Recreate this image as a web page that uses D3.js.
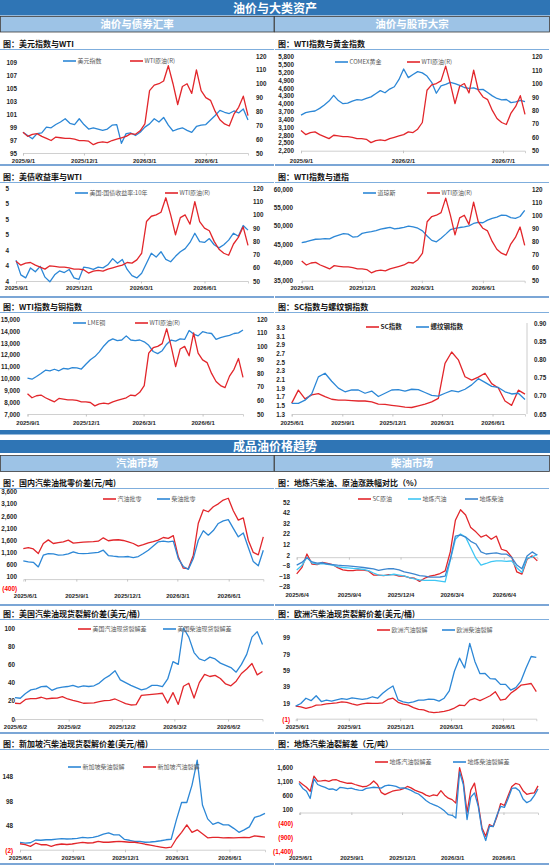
<!DOCTYPE html>
<html>
<head>
<meta charset="utf-8">
<script src="https://cdn.jsdelivr.net/npm/d3@7"></script>
<style>
  body { margin: 0; background: #fff; }
  svg { display: block; font-family: "Noto Sans CJK SC", "Microsoft YaHei", sans-serif; }
</style>
</head>
<body>
<svg id="chart" width="550" height="867"></svg>
<script>
// ---- 油价与大类资产: weekly readings, 2025/9/1 .. 2026/8/3 ----
const wti = [65, 62, 63.5, 64, 62, 60.5, 59, 61.5, 61, 60.5, 60.5, 60, 59, 59, 58.5, 56, 57.5, 58, 57.5, 59,
  60, 61, 62, 64, 63.5, 66, 71, 95, 99, 100, 102, 113, 100, 85, 98, 100, 93, 110, 95, 90,
  88, 80, 74, 71, 69.5, 78, 83, 91, 77];
const dxy = [98.2, 97.7, 97.2, 98.0, 98.1, 99.0, 98.9, 99.4, 99.8, 100.3, 99.6, 99.4, 100.3, 99.4, 98.7, 98.9, 98.7, 98.5, 98.7, 99.3,
  99.4, 96.5, 98.0, 98.1, 97.7, 98.2, 99.0, 99.5, 100.3, 99.8, 100.5, 99.3, 98.4, 98.7, 98.9, 98.5, 98.2, 99.1, 99.3, 99.4,
  100.1, 100.8, 101.6, 101.3, 101.1, 101.5, 101.2, 101.8, 100.1];
const gold = [3560, 3660, 3700, 3720, 3820, 3950, 4100, 4320, 4120, 4000, 4020, 4100, 4160, 4140, 4200, 4260, 4380, 4500, 4420, 4560,
  4650, 4930, 5330, 5000, 5120, 5230, 5180, 5060, 4820, 4400, 4680, 4740, 4820, 4770, 4700, 4620, 4590, 4610, 4540, 4550,
  4430, 4300, 4200, 4150, 4160, 4040, 4070, 4130, 4080];
const ust10y = [4.27, 4.08, 4.04, 4.17, 4.12, 4.19, 4.05, 3.99, 4.08, 4.13, 4.11, 4.15, 4.04, 4.02, 4.18, 4.17, 4.15, 4.18, 4.17, 4.21,
  4.29, 4.23, 4.28, 4.15, 4.07, 4.04, 4.10, 4.23, 4.36, 4.31, 4.38, 4.28, 4.25, 4.32, 4.38, 4.42, 4.50, 4.62, 4.51, 4.50,
  4.55, 4.47, 4.43, 4.47, 4.53, 4.62, 4.58, 4.72, 4.66];
const dow = [45360, 45620, 46000, 46300, 46350, 46450, 46400, 47000, 47450, 47850, 47700, 46900, 47000, 47900, 48200, 48400, 48650, 49050, 49300, 49540,
  49100, 49300, 49550, 49900, 49650, 49300, 48600, 47200, 46000, 45600, 46600, 47700, 48900, 49250, 49500, 49700, 49950, 50600, 50900, 50800,
  51500, 52000, 52350, 52850, 52800, 52200, 52000, 52500, 54200];
const lmeCopper = [10030, 9940, 10170, 10420, 10700, 10650, 10780, 10650, 10850, 10800, 10920, 10900, 10800, 11200, 11580, 11850, 12250, 12750, 13150, 13350,
  13200, 13250, 13600, 13250, 13200, 13250, 13100, 12800, 12280, 12100, 12350, 12900, 13250, 13150, 13350, 13300, 14050, 13750, 13600, 13950,
  13850, 13800, 13300, 13450, 13550, 13650, 13800, 13850, 14100];

// ---- SC vs 螺纹钢, 2025/6/1 .. 2026/7/30 ----
const scIndex = [1.55, 1.85, 1.65, 1.74, 1.77, 1.70, 1.64, 1.62, 1.62, 1.61, 1.60, 1.60, 1.58, 1.53, 1.52, 1.50, 1.48, 1.46, 1.45, 1.49,
  1.53, 1.58, 1.66, 2.47, 2.73, 2.55, 2.16, 2.08, 2.15, 2.24, 2.0, 1.90, 1.60, 1.50, 1.85, 1.76];
const rebarIndex = [0.679, 0.679, 0.688, 0.705, 0.752, 0.762, 0.740, 0.721, 0.711, 0.716, 0.716, 0.707, 0.713, 0.698, 0.707, 0.716, 0.717, 0.713, 0.718, 0.717,
  0.709, 0.701, 0.699, 0.707, 0.714, 0.711, 0.718, 0.730, 0.747, 0.737, 0.726, 0.723, 0.711, 0.705, 0.707, 0.690];

// ---- 成品油 ----
const gasWholesale = [1259, 1300, 1240, 1052, 1466, 1615, 1466, 1500, 1535, 1603, 1480, 1500, 1521, 1530, 1540, 1560, 1700, 1580, 1610, 1620,
  1590, 1535, 1466, 1355, 1420, 1493, 1540, 1603, 1713, 1680, 1790, 915, 450, 430, 984, 2300, 2850, 2774, 2980, 3100,
  3256, 3330, 2815, 2430, 2520, 1600, 1100, 1000, 1741];
const dieselWholesale = [750, 708, 690, 502, 984, 1052, 1040, 984, 1000, 1040, 1121, 1060, 1052, 1060, 1080, 1100, 1190, 970, 942, 920,
  915, 930, 887, 930, 1052, 1190, 1360, 1535, 1560, 1535, 1562, 846, 520, 400, 846, 1600, 1990, 1810, 2000, 2292,
  2400, 2450, 2090, 1741, 1900, 1300, 720, 550, 1190];
const scCrudePct = [-15.9, -10, 3, -6.6, -7, -5, -6, -7, -10, -12, -12.8, -12.8, -12, -12.2, -13, -17, -17, -17.5, -16.5, -16.5,
  -18, -18, -19.5, -20, -23, -20, -18, -17, -15.5, -13, 5, 35, 45, 40, 28, 24, 19, 21, 17, 20,
  7.5, 6, 0, -14, -16, -2, 1.2, -3.5];
const localGasPct = [-12.2, -8, 0, -5.5, -6.6, -6, -6.8, -7.5, -8.9, -9.8, -10.2, -10.7, -11, -11.5, -12.8, -15, -17, -17.3, -17, -16.2,
  -17, -17.8, -19.3, -20.5, -21.5, -22, -22, -22, -22.8, -23.5, -3, 17, 22, 19, 9, -1, -7.5, -6, -4.3, -3.5,
  -3.5, -4, -3.5, -10, -14.5, -1, 0, 2.8];
const localDieselPct = [-7.5, -5, -0.5, -4.5, -5.6, -5.3, -6.5, -7, -7.6, -8, -8.3, -8.8, -9.3, -9.8, -10.5, -11.2, -12.5, -11.5, -10.8, -11,
  -12, -14, -15, -16, -17.5, -18, -19, -19, -18.8, -18, -2, 19.9, 21, 19, 15, 12.5, 5, 3, 3.5, 4,
  2.8, 2.8, -0.3, -7.5, -11, 1, 5, 1.8];
const usGasCrack = [17.3, 17, 21.5, 22.5, 22.5, 23.9, 22, 22.8, 23, 24.6, 22, 20.5, 19.2, 17.3, 17.5, 17.8, 19, 20.2, 20.5, 22,
  19.5, 17, 15.4, 15.8, 26, 26.5, 27, 27.6, 28.3, 17.5, 29, 16, 36, 39.3, 23, 40, 49, 46.7, 48, 44.5,
  38.5, 36.5, 41.5, 50, 55, 61, 48.5, 52.2];
const usDieselCrack = [23.5, 22.8, 28, 32, 33, 35.5, 36, 31.5, 34, 35, 35.7, 37, 35, 36.5, 35.7, 36.5, 39.5, 44.5, 48, 53,
  43, 40, 37, 34.5, 32, 33.5, 37, 37, 35.5, 44, 63, 60, 100, 90, 73, 66, 64, 68, 66, 61.4,
  59, 56.5, 51.5, 60, 71, 90, 96, 82];
const euGasCrack = [15.3, 14.5, 12.5, 14, 16.6, 17, 18, 18.6, 19.4, 20.6, 20, 18, 16.6, 18, 19, 18.6, 18.6, 19.4, 23.5, 25,
  20, 17.8, 16.6, 13.5, 11.5, 10.8, 8.4, 7.5, 8, 9, 10.4, 13, 16.6, 16, 22.7, 24.7, 22, 25, 28, 32.9,
  22.7, 24, 31, 35.5, 41, 42, 43, 33];
const euDieselCrack = [15.3, 18.6, 25, 22, 28, 21, 22.7, 21.5, 23, 24.5, 23.5, 25.5, 24.5, 23.5, 24.5, 26.8, 25, 31, 36, 40,
  23, 20.6, 19.4, 20.6, 22.7, 22.7, 24, 23.5, 21.5, 25, 34, 58, 74, 62, 92, 70, 55, 55.3, 49, 48.5,
  42, 42, 35, 38, 46, 62, 76, 75];
const sgDieselCrack = [14.6, 13.3, 14, 19.5, 19, 20, 20, 21.3, 22.5, 21.5, 22, 23, 25, 24, 25, 27.5, 31.5, 34, 30, 30,
  21, 19, 16.6, 16.6, 15, 15.5, 16.5, 18, 20, 21, 60, 95, 95, 130, 180, 90, 62, 51, 55, 50,
  50, 43, 35, 40, 46, 65, 68, 73];
const sgGasCrack = [12, 10, 6.6, 13, 10, 10, 6.6, 10, 11.5, 10.5, 11.5, 13.3, 14.6, 13.5, 14, 16.6, 15, 15, 16, 16.6,
  16, 15, 15, 13.3, 11, 9, 7, 5.3, 3.5, 5, 22, 35, 50, 35, 40, 32, 24, 25, 25, 24,
  24.5, 24, 24.5, 25, 24.5, 28, 26.6, 25.3];
const localGasCrack = [1104, 1000, 900, 760, 1300, 1120, 1130, 1145, 1110, 1163, 1170, 1110, 1080, 1044, 1050, 1000, 960, 920, 930, 1000,
  1127, 1000, 720, 640, 700, 760, 790, 808, 850, 930, 880, 800, 749, 700, 620, 580, 631, 600, 780, 620,
  513, 460, 335, 1600, 1100, 0, 800, 1050, 300, -550, -850, -430, -500, -150, 320, 250, 600, 930, 1040, 1000,
  780, 650, 680, 700, 950];
const localDieselCrack = [1044, 860, 760, 500, 1200, 1000, 940, 900, 830, 840, 790, 900, 880, 850, 867, 830, 800, 790, 860, 880,
  902, 890, 870, 950, 980, 960, 930, 870, 880, 840, 790, 713, 660, 550, 430, 340, 280, 230, 150, 50,
  -78, -100, -197, 1450, 1000, -250, 550, 700, 220, -620, -1000, -490, -500, -100, 217, 180, 500, 860, 880, 780,
  480, 350, 420, 600, 840];

// tick labels
const ticksSep = ['2025-09-01', '2025-12-01', '2026-03-01', '2026-06-01'];
const ticksGold = ['2025-09-01', '2026-02-01', '2026-07-01'];
const ticksJun1 = ['2025-06-01', '2025-09-01', '2025-12-01', '2026-03-01', '2026-06-01'];
const ticksJun2 = ['2025-06-02', '2025-09-02', '2025-12-02', '2026-03-02', '2026-06-02'];
const ticksJun4 = ['2025-06-04', '2025-09-04', '2025-12-04', '2026-03-04', '2026-06-04'];

const BLUE = '#2C87D6', RED = '#E2262B', CYAN = '#3EC6F4', MIDBLUE = '#3C86CF';
const HEAD = '#2F75B5', SUB = '#9DC3E6';

const svg = d3.select('#chart');
const parse = d3.utcParse('%Y-%m-%d');
const fmtDate = d3.utcFormat('%Y/%-m/%-d');
const comma = d3.format(',');
const paren = v => v < 0 ? '(' + comma(-v) + ')' : comma(v);
const redNeg = v => v < 0 ? '#FF0000' : '#262626';

// ---- section headers ----
function header(y, h, label) {
  svg.append('rect').attr('x', 0).attr('y', y).attr('width', 550).attr('height', h).attr('fill', HEAD);
  svg.append('text').attr('x', 275).attr('y', y + h / 2 + 0.5).attr('dy', '0.36em').attr('text-anchor', 'middle')
    .attr('fill', '#fff').attr('font-size', 12).attr('font-weight', 'bold').text(label);
}
function subheader(y, h, labels) {
  labels.forEach((t, i) => {
    svg.append('rect').attr('x', 0.5 + i * 274).attr('y', y).attr('width', i ? 275 : 273.5).attr('height', h)
      .attr('fill', SUB).attr('stroke', '#3a3a3a').attr('stroke-width', 0.8);
    svg.append('text').attr('x', 137 + i * 275).attr('y', y + h / 2).attr('dy', '0.36em').attr('text-anchor', 'middle')
      .attr('fill', '#fff').attr('font-size', 10.5).attr('font-weight', 'bold').text(t);
  });
}
header(0, 15.5, '油价与大类资产');
subheader(16.5, 15.5, ['油价与债券汇率', '油价与股市大宗']);
svg.append('rect').attr('x', 0).attr('y', 430).attr('width', 550).attr('height', 4.5).attr('fill', HEAD);
header(440, 13, '成品油价格趋势');
subheader(455.5, 16, ['汽油市场', '柴油市场']);

// ---- one chart panel ----
function panel(p) {
  const g = svg.append('g');
  const W = 274;
  g.append('text').attr('x', p.x0 + 3).attr('y', p.ty).attr('dy', '0.36em')
    .attr('font-size', 8).attr('font-weight', 'bold').attr('fill', '#111').text(p.title);
  g.append('line').attr('x1', p.x0).attr('x2', p.x0 + W).attr('y1', p.ty + 5.5).attr('y2', p.ty + 5.5)
    .attr('stroke', '#7FAEDD').attr('stroke-width', 1.2);
  if (p.bottom) g.append('line').attr('x1', p.x0).attr('x2', p.x0 + W).attr('y1', p.bottom).attr('y2', p.bottom)
    .attr('stroke', '#4F88C9').attr('stroke-width', 1.6);

  const span = p.span.map(parse);
  const x = d3.scaleUtc().domain(span).range(p.xr);
  const yL = d3.scaleLinear().domain(p.left.domain).range(p.yr);
  const yR = p.right ? d3.scaleLinear().domain(p.right.domain).range(p.yr) : null;

  // y axes
  const la = g.append('g').attr('transform', `translate(${p.left.x},0)`)
    .call(d3.axisLeft(yL).tickValues(p.left.ticks).tickSize(0).tickPadding(0).tickFormat(p.left.fmt || comma));
  la.select('.domain').remove();
  la.selectAll('text').attr('font-size', 6.3).attr('font-weight', 'bold').attr('font-family', null)
    .attr('fill', d => (p.left.color || (() => '#262626'))(d));
  if (yR) {
    const ra = g.append('g').attr('transform', `translate(${p.right.x},0)`)
      .call(d3.axisRight(yR).tickValues(p.right.ticks).tickSize(0).tickPadding(0).tickFormat(p.right.fmt || comma));
    ra.select('.domain').remove();
    ra.selectAll('text').attr('font-size', 6.3).attr('font-weight', 'bold').attr('font-family', null).attr('fill', '#262626');
  }
  if (p.rightLine) g.append('line').attr('x1', p.rightLine).attr('x2', p.rightLine).attr('y1', p.yr[1]).attr('y2', p.yr[0])
    .attr('stroke', '#bfbfbf').attr('stroke-width', 0.8);

  // category axis line (at zero when the range crosses it) and its labels
  const tickDates = p.ticks.map(parse);
  const baseY = p.zero ? yL(0) : p.yr[0];
  const xa = g.append('g').attr('transform', `translate(0,${baseY})`)
    .call(d3.axisBottom(x).tickValues(tickDates).tickSize(2.5).tickFormat(''));
  xa.select('.domain').attr('stroke', '#c4c4c4').attr('stroke-width', 0.8);
  xa.selectAll('.tick line').attr('stroke', '#c4c4c4');
  const xl = g.append('g').attr('transform', `translate(0,${p.xLabelY})`)
    .call(d3.axisBottom(x).tickValues(tickDates).tickSize(0).tickFormat(fmtDate));
  xl.select('.domain').remove();
  xl.selectAll('text').attr('y', 0).attr('dy', '0.36em').attr('font-size', 6).attr('font-weight', 'bold')
    .attr('font-family', null).attr('fill', '#262626');

  // series: values are evenly spaced across the span
  p.series.forEach(s => {
    const y = s.axis === 'R' ? yR : yL;
    const n = s.values.length;
    const at = i => new Date(+span[0] + (span[1] - span[0]) * i / (n - 1));
    g.append('path').datum(s.values)
      .attr('fill', 'none').attr('stroke', s.color).attr('stroke-width', 1.3).attr('stroke-linejoin', 'round')
      .attr('d', d3.line().x((v, i) => x(at(i))).y(v => y(v)));
    const [lx, ly] = s.legend;
    g.append('line').attr('x1', lx).attr('x2', lx + 13).attr('y1', ly).attr('y2', ly)
      .attr('stroke', s.color).attr('stroke-width', 1.6);
    g.append('text').attr('x', lx + 14.5).attr('y', ly).attr('dy', '0.36em')
      .attr('font-size', p.legendBold ? 6.5 : 6).attr('font-weight', p.legendBold ? 'bold' : 'normal')
      .attr('fill', p.legendBold ? '#222' : '#595959').text(s.name);
  });
}

const wtiAxis = x => ({ domain: [50, 120], ticks: d3.range(50, 121, 10), x });
const weekSpan = ['2025-09-01', '2026-08-03'];

const panels = [
  { title: '图：美元指数与WTI', x0: 0, ty: 44, bottom: 165, span: weekSpan, xr: [23, 248], yr: [153, 56],
    ticks: ticksSep, xLabelY: 161,
    left: { domain: [95, 110], ticks: d3.range(95, 110, 2), x: 17 }, right: wtiAxis(256),
    series: [
      { values: dxy, name: '美元指数', color: BLUE, legend: [63, 61] },
      { values: wti, name: 'WTI原油(R)', color: RED, axis: 'R', legend: [130, 61] }] },
  { title: '图：WTI指数与黄金指数', x0: 275, ty: 44, bottom: 165, span: weekSpan, xr: [301, 525], yr: [150.7, 56.7],
    ticks: ticksGold, xLabelY: 161,
    left: { domain: [2200, 5800], ticks: d3.range(2200, 5801, 300), x: 294 }, right: wtiAxis(532),
    series: [
      { values: gold, name: 'COMEX黄金', color: BLUE, legend: [335, 62] },
      { values: wti, name: 'WTI原油(R)', color: RED, axis: 'R', legend: [407, 62] }] },
  { title: '图：美债收益率与WTI', x0: 0, ty: 177, bottom: 297, span: weekSpan, xr: [16, 248], yr: [281, 188.5],
    ticks: ticksSep, xLabelY: 288,
    left: { domain: [4.0, 5.2], ticks: [4.0, 4.2, 4.4, 4.6, 4.8, 5.0, 5.2], x: 9, fmt: d3.format('.0f') }, right: wtiAxis(253),
    series: [
      { values: ust10y, name: '美国:国债收益率:10年', color: BLUE, legend: [75, 193] },
      { values: wti, name: 'WTI原油(R)', color: RED, axis: 'R', legend: [165, 193] }] },
  { title: '图：WTI指数与道指', x0: 275, ty: 177, bottom: 297, span: weekSpan, xr: [301.7, 524.7], yr: [280.7, 189],
    ticks: ticksSep, xLabelY: 288,
    left: { domain: [35000, 60000], ticks: d3.range(35000, 60001, 5000), x: 293 }, right: wtiAxis(532),
    series: [
      { values: dow, name: '道琼斯', color: BLUE, legend: [363, 193] },
      { values: wti, name: 'WTI原油(R)', color: RED, axis: 'R', legend: [427, 193] }] },
  { title: '图：WTI指数与铜指数', x0: 0, ty: 307, span: weekSpan, xr: [27.5, 243], yr: [414, 319.3],
    ticks: ticksSep, xLabelY: 423,
    left: { domain: [7000, 15000], ticks: d3.range(7000, 15001, 1000), x: 20 }, right: wtiAxis(257),
    series: [
      { values: lmeCopper, name: 'LME铜', color: BLUE, legend: [73, 323] },
      { values: wti, name: 'WTI原油(R)', color: RED, axis: 'R', legend: [135, 323] }] },
  { title: '图：SC指数与螺纹钢指数', x0: 275, ty: 307, span: ['2025-06-01', '2026-07-30'], xr: [291.7, 525], yr: [414, 323],
    ticks: ticksJun1, xLabelY: 423, rightLine: 527, legendBold: true,
    left: { domain: [1.3, 3.4], ticks: [1.3, 1.5, 1.7, 1.9, 2.1, 2.3, 2.5, 2.7, 2.9, 3.1, 3.3], x: 285, fmt: d3.format('.1f') },
    right: { domain: [0.65, 0.90], ticks: [0.65, 0.70, 0.75, 0.80, 0.85, 0.90], x: 534, fmt: d3.format('.2f') },
    series: [
      { values: scIndex, name: 'SC指数', color: RED, legend: [366, 327] },
      { values: rebarIndex, name: '螺纹钢指数', color: BLUE, axis: 'R', legend: [416, 327] }] },
  { title: '图：国内汽柴油批零价差(元/吨)', x0: 0, ty: 483, bottom: 605, span: ['2025-05-29', '2026-08-02'], xr: [23.3, 263.3],
    yr: [588.8, 491.7], ticks: ticksJun1, xLabelY: 596, zero: true,
    left: { domain: [-400, 3600], ticks: d3.range(-400, 3601, 500), x: 17, fmt: paren, color: redNeg },
    series: [
      { values: gasWholesale, name: '汽油批零', color: RED, legend: [103, 499] },
      { values: dieselWholesale, name: '柴油批零', color: BLUE, legend: [157, 499] }] },
  { title: '图：地炼汽柴油、原油涨跌幅对比（%）', x0: 275, ty: 483, bottom: 605, span: ['2025-06-04', '2026-08-02'],
    xr: [296.7, 537.3], yr: [586.7, 502.3], ticks: ticksJun4, xLabelY: 594.5, zero: true,
    left: { domain: [-28, 52], ticks: d3.range(-28, 53, 10), x: 290, fmt: d3.format('d') },
    series: [
      { values: scCrudePct, name: 'SC原油', color: RED, legend: [358, 499] },
      { values: localGasPct, name: '地炼汽油', color: CYAN, legend: [408, 499] },
      { values: localDieselPct, name: '地炼柴油', color: MIDBLUE, legend: [465, 499] }] },
  { title: '图：美国汽柴油现货裂解价差(美元/桶)', x0: 0, ty: 614, bottom: 733, span: ['2025-06-02', '2026-07-31'],
    xr: [15, 262.5], yr: [719, 628], ticks: ticksJun2, xLabelY: 727,
    left: { domain: [0, 100], ticks: d3.range(0, 101, 20), x: 15 },
    series: [
      { values: usGasCrack, name: '美国汽油现货裂解差', color: RED, legend: [78, 629] },
      { values: usDieselCrack, name: '美国柴油现货裂解差', color: BLUE, legend: [163, 629] }] },
  { title: '图：欧洲汽柴油现货裂解价差(美元/桶)', x0: 275, ty: 614, bottom: 733, span: ['2025-05-30', '2026-07-30'],
    xr: [295.7, 536.3], yr: [719.5, 637.7], ticks: ticksJun1, xLabelY: 727, zero: true,
    left: { domain: [-1, 99], ticks: d3.range(-1, 100, 20), x: 290, fmt: paren, color: redNeg },
    series: [
      { values: euGasCrack, name: '欧洲汽油裂解', color: RED, legend: [377, 630] },
      { values: euDieselCrack, name: '欧洲柴油裂解', color: BLUE, legend: [442, 630] }] },
  { title: '图：新加坡汽柴油现货裂解价差(美元/桶)', x0: 0, ty: 744, bottom: 864, span: ['2025-06-01', '2026-08-02'],
    xr: [20, 265], yr: [850.7, 751.3], ticks: ticksJun1, xLabelY: 858, zero: true,
    left: { domain: [-2, 198], ticks: [-2, 48, 98, 148], x: 13, fmt: paren, color: redNeg },
    series: [
      { values: sgDieselCrack, name: '新加坡柴油裂解', color: BLUE, legend: [68, 767] },
      { values: sgGasCrack, name: '新加坡汽油裂解', color: RED, legend: [143, 767] }] },
  { title: '图：地炼汽柴油裂解差（元/吨）', x0: 275, ty: 744, bottom: 864, span: ['2025-05-30', '2026-08-02'],
    xr: [299, 538], yr: [851.7, 767.7], ticks: ticksJun1, xLabelY: 858, zero: true,
    left: { domain: [-1400, 1600], ticks: d3.range(-1400, 1601, 500), x: 293, fmt: paren, color: redNeg },
    series: [
      { values: localGasCrack, name: '地炼汽油裂解差', color: RED, legend: [375, 762] },
      { values: localDieselCrack, name: '地炼柴油裂解差', color: BLUE, legend: [453, 762] }] },
];

panels.forEach(panel);
</script>
</body>
</html>
